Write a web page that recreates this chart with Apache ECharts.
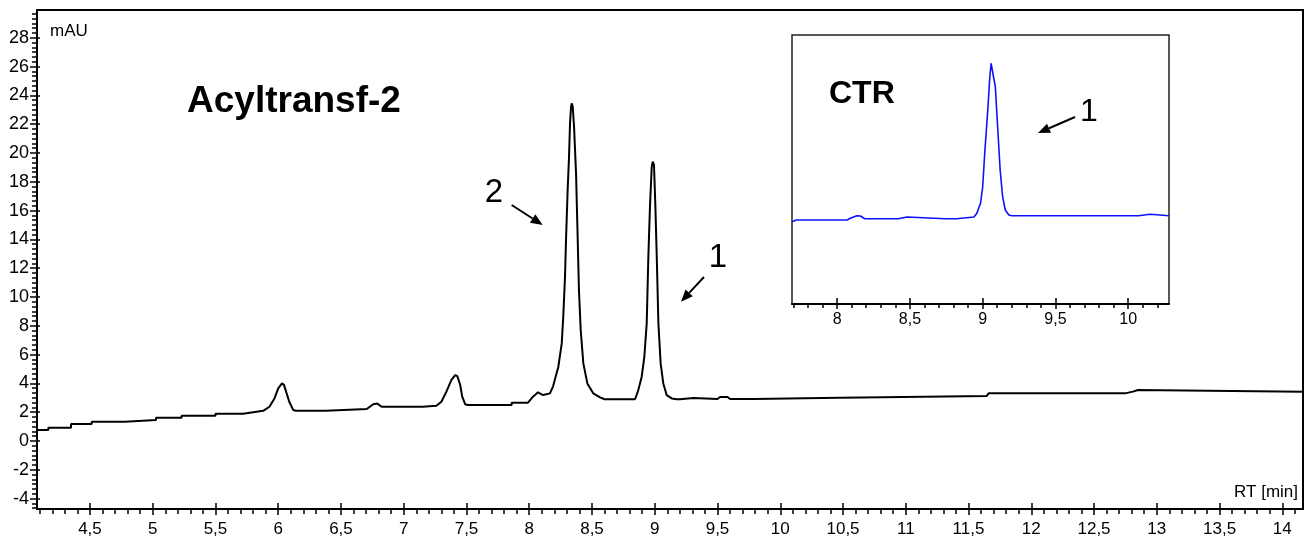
<!DOCTYPE html>
<html>
<head>
<meta charset="utf-8">
<script src="https://cdn.jsdelivr.net/npm/echarts@6.0.0/dist/echarts.min.js"></script>
<style>
  html, body { margin: 0; padding: 0; background: #fff; }
  #chart { width: 1315px; height: 545px; }
</style>
</head>
<body>
<div id="chart"></div>
<script>
// Acyltransf-2 trace (RT in min, signal in mAU)
const rt = [4.078, 4.168, 4.168, 4.349, 4.349, 4.514, 4.514, 4.779, 4.779, 5.026, 5.026, 5.23, 5.23, 5.50, 5.50, 5.72, 5.72,
  5.88, 5.93, 5.97, 6.00, 6.03, 6.046, 6.067, 6.088, 6.12, 6.14, 6.38, 6.38, 6.705, 6.757, 6.79, 6.824,
  7.13, 7.14, 7.15, 7.26, 7.30, 7.34, 7.38, 7.41, 7.427, 7.45, 7.466, 7.49, 7.51, 7.86, 7.86, 7.99,
  8.03, 8.07, 8.11, 8.165, 8.19, 8.232, 8.259, 8.271, 8.285, 8.293, 8.306, 8.317, 8.325, 8.333, 8.338,
  8.346, 8.357, 8.373, 8.383, 8.396, 8.41, 8.431, 8.463, 8.51, 8.564, 8.60, 8.843, 8.869, 8.896, 8.917,
  8.936, 8.949, 8.962, 8.976, 8.984, 8.994, 9.005, 9.016, 9.029, 9.047, 9.068, 9.095, 9.135, 9.175,
  9.20, 9.21, 9.31, 9.32, 9.50, 9.52, 9.58, 9.60, 9.785, 9.785, 10.476, 10.476, 11.645, 11.66,
  12.747, 12.747, 12.81, 12.81, 12.85, 12.85, 14.165];
const mau = [0.76, 0.76, 0.92, 0.92, 1.18, 1.18, 1.34, 1.34, 1.46, 1.46, 1.62, 1.62, 1.76, 1.76, 1.9, 1.9, 2.0,
  2.1, 2.38, 2.96, 3.66, 4.0, 3.9, 3.31, 2.73, 2.15, 2.1, 2.1, 2.22, 2.22, 2.55, 2.6, 2.38,
  2.38, 2.5, 2.38, 2.45, 2.73, 3.43, 4.24, 4.58, 4.51, 3.89, 3.08, 2.55, 2.5, 2.5, 2.66, 2.66,
  3.08, 3.38, 3.19, 3.31, 3.8, 5.16, 6.78, 8.63, 11.41, 13.96, 17.43, 19.74, 22.06, 23.2, 23.45,
  23.26, 21.83, 18.57, 15.1, 10.49, 7.71, 5.39, 4.0, 3.31, 3.03, 2.9, 2.9, 3.54, 4.47, 5.85,
  8.17, 12.8, 16.3, 19.05, 19.4, 19.17, 16.3, 12.8, 8.17, 5.39, 4.0, 3.19, 2.96, 2.9,
  2.9, 2.99, 2.99, 2.92, 2.92, 3.06, 3.06, 2.92, 2.92, 3.0, 3.0, 3.125, 3.125, 3.31,
  3.31, 3.43, 3.43, 3.54, 3.54, 3.43, 3.43];

// CTR trace (inset, no scale shown)
const ctrRt = [7.69, 7.72, 8.07, 8.09, 8.135, 8.16, 8.19, 8.42, 8.42, 8.48, 8.48, 8.74, 8.75, 8.77, 8.82, 8.82,
  8.94, 8.96, 8.985, 9.0, 9.014, 9.035, 9.049, 9.058, 9.07, 9.087, 9.10, 9.12, 9.137, 9.155, 9.18, 9.20,
  10.07, 10.07, 10.15, 10.15, 10.28];
const ctrAbs = [8.23, 8.4, 8.4, 8.57, 8.83, 8.8, 8.53, 8.53, 8.7, 8.7, 8.53, 8.53, 8.73, 8.53, 8.53, 8.7,
  8.7, 9.07, 10.07, 11.7, 15.07, 19.4, 22.7, 24.07, 23.9, 21.7, 18.4, 13.4, 10.73, 9.4, 8.9, 8.83,
  8.83, 8.97, 8.97, 8.83, 8.83];

// tick labels
const xTicks = [4.5, 5, 5.5, 6, 6.5, 7, 7.5, 8, 8.5, 9, 9.5, 10, 10.5, 11, 11.5, 12, 12.5, 13, 13.5, 14];
const yTicks = [-4, -2, 0, 2, 4, 6, 8, 10, 12, 14, 16, 18, 20, 22, 24, 26, 28];
const insetTicks = [8, 8.5, 9, 9.5, 10];

// minor ticks: every 0.1 min on x, every 1/3 mAU on y
const xMinor = [];
for (let k = 41; k <= 141; k++) if (k % 5 !== 0) xMinor.push(k / 10);
const insetMinor = [];
for (let k = 77; k <= 102; k++) if (k % 5 !== 0) insetMinor.push(k / 10);
const yMinor = [];
for (let k = -14; k <= 89; k++) if (k % 6 !== 0) yMinor.push(k / 3);

const FONT = 'Liberation Sans, Arial, sans-serif';
const comma = v => String(v).replace('.', ',');

function tickAxis(grid, pos, min, max, values, len, inside, labels) {
  return {
    type: 'value', gridIndex: grid, position: pos, min: min, max: max,
    splitLine: { show: false },
    axisLine: { show: !!labels, onZero: false, lineStyle: { color: '#000', width: 2 } },
    axisTick: { show: true, customValues: values, length: len, inside: inside, lineStyle: { color: '#000', width: 1.5 } },
    axisLabel: labels ? Object.assign({ customValues: values, color: '#000', fontFamily: FONT }, labels) : { show: false }
  };
}

function arrow(x1, y1, x2, y2) {
  const dx = x2 - x1, dy = y2 - y1, d = Math.hypot(dx, dy);
  const ux = dx / d, uy = dy / d, L = 12, W = 5;
  const bx = x2 - ux * L, by = y2 - uy * L;
  return [
    { type: 'line', shape: { x1: x1, y1: y1, x2: bx, y2: by }, style: { stroke: '#000', lineWidth: 2 } },
    { type: 'polygon', shape: { points: [[x2, y2], [bx - uy * W, by + ux * W], [bx + uy * W, by - ux * W]] }, style: { fill: '#000' } }
  ];
}

function label(text, x, y, size, bold, align) {
  return { type: 'text', x: x, y: y, z: 10,
    style: { text: text, fill: '#000', font: (bold ? 'bold ' : '') + size + 'px ' + FONT, align: align || 'left', verticalAlign: 'middle' } };
}

const chart = echarts.init(document.getElementById('chart'));
const xMin = 4.078, xMax = 14.165, yMin = -4.72, yMax = 29.93;
const iMin = 7.69, iMax = 10.28;

const option = {
  animation: false,
  backgroundColor: '#fff',
  grid: [
    { left: 37, right: 12, top: 10, bottom: 36, show: true, borderColor: '#000', borderWidth: 2, outerBoundsMode: 'none' },
    { left: 792, top: 35, width: 377, height: 269, show: true, borderColor: '#222', borderWidth: 1.5, backgroundColor: '#fff', outerBoundsMode: 'none' }
  ],
  xAxis: [
    tickAxis(0, 'bottom', xMin, xMax, xTicks, 6, false, { fontSize: 17, margin: 12, formatter: comma }),
    tickAxis(0, 'bottom', xMin, xMax, xMinor, 5, false, null),
    tickAxis(0, 'bottom', xMin, xMax, xTicks, 6, true, null),
    tickAxis(1, 'bottom', iMin, iMax, insetTicks, 5, false, { fontSize: 16, margin: 8, formatter: comma }),
    tickAxis(1, 'bottom', iMin, iMax, insetMinor, 4, false, null),
    tickAxis(1, 'bottom', iMin, iMax, insetTicks, 6, true, null)
  ],
  yAxis: [
    tickAxis(0, 'left', yMin, yMax, yTicks, 7, false, { fontSize: 18, margin: 8 }),
    tickAxis(0, 'left', yMin, yMax, yMinor, 5, false, null),
    tickAxis(0, 'left', yMin, yMax, yTicks, 3, true, null),
    { type: 'value', gridIndex: 1, min: 0, max: 26.9, show: false }
  ],
  series: [
    {
      type: 'line', xAxisIndex: 0, yAxisIndex: 0, showSymbol: false, silent: true,
      lineStyle: { color: '#000', width: 2 },
      data: rt.map((t, i) => [t, mau[i]])
    },
    {
      type: 'line', xAxisIndex: 3, yAxisIndex: 3, showSymbol: false, silent: true,
      lineStyle: { color: '#1010ff', width: 1.6 },
      data: ctrRt.map((t, i) => [t, ctrAbs[i]])
    }
  ],
  graphic: [
    label('Acyltransf-2', 187, 102, 37, true),
    label('CTR', 829, 94, 32, true),
    label('2', 494, 193, 33, false, 'center'),
    label('1', 718, 258, 33, false, 'center'),
    label('1', 1089, 112, 32, false, 'center'),
    label('mAU', 50, 31, 17, false),
    label('RT [min]', 1298, 492, 17, false, 'right')
  ].concat(arrow(511.7, 205, 542.7, 225), arrow(704, 277, 681, 301.7), arrow(1075, 117, 1038, 133))
};
chart.setOption(option);
</script>
</body>
</html>
